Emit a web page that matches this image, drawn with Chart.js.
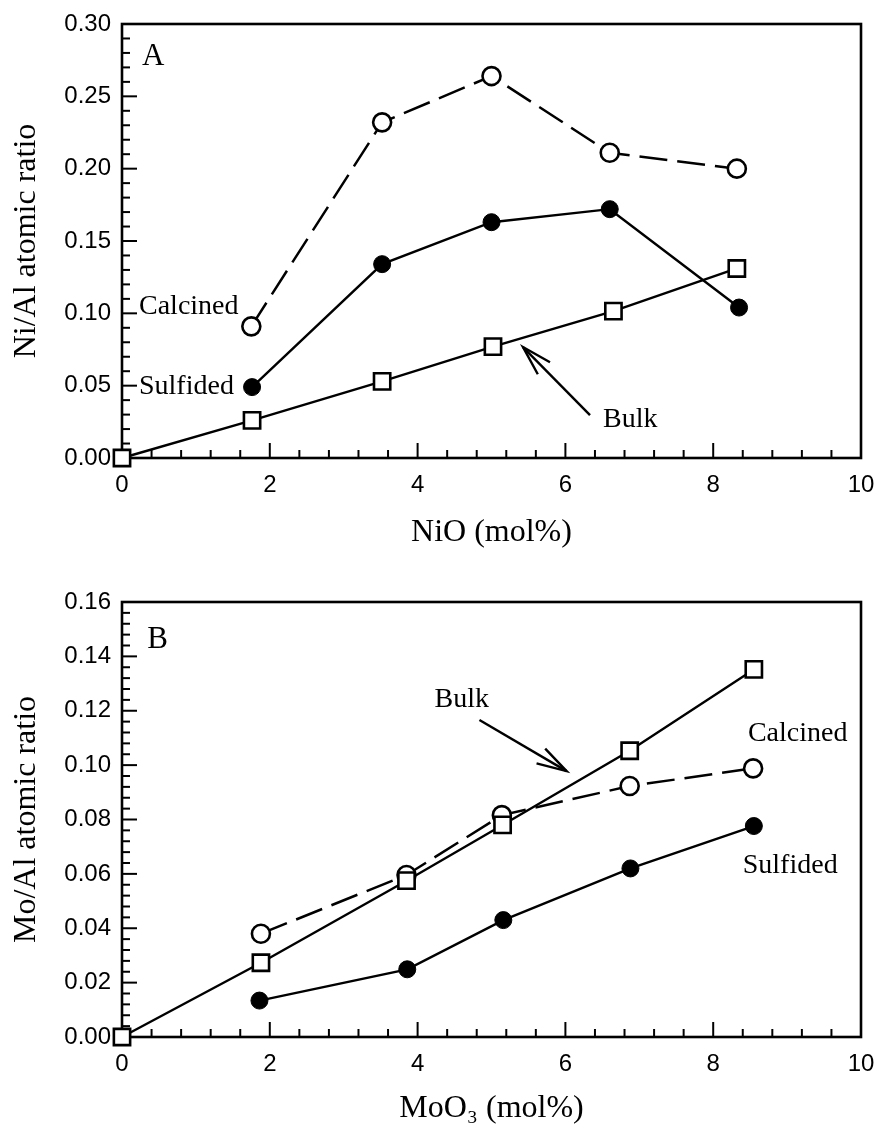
<!DOCTYPE html>
<html><head><meta charset="utf-8">
<script src="https://cdn.jsdelivr.net/npm/chart.js@4.4.1/dist/chart.umd.min.js"></script>
<style>
html,body{margin:0;padding:0;background:#fff;}
#wrap{position:relative;width:877px;height:1132px;background:#fff;}
canvas{position:absolute;left:0;display:block;}
</style></head>
<body><div id="wrap">
<canvas id="cA" width="877" height="565" style="top:0"></canvas>
<canvas id="cB" width="877" height="567" style="top:565px"></canvas>
</div>
<script>
// ---------- data ----------
const niCalcinedX = [1.75, 3.52, 5.0, 6.6, 8.32];
const niCalcinedY = [0.091, 0.232, 0.264, 0.211, 0.200];
const niSulfidedX = [1.76, 3.52, 5.0, 6.6, 8.35];
const niSulfidedY = [0.049, 0.134, 0.163, 0.172, 0.104];
const niBulkX = [0, 1.76, 3.52, 5.02, 6.65, 8.32];
const niBulkY = [0, 0.026, 0.053, 0.077, 0.1015, 0.131];

const moCalcinedX = [1.88, 3.85, 5.14, 6.87, 8.54];
const moCalcinedY = [0.038, 0.0596, 0.0816, 0.0923, 0.0988];
const moSulfidedX = [1.86, 3.86, 5.16, 6.88, 8.55];
const moSulfidedY = [0.0134, 0.0249, 0.043, 0.062, 0.0776];
const moBulkX = [0, 1.88, 3.85, 5.15, 6.87, 8.55];
const moBulkY = [0, 0.0273, 0.0575, 0.078, 0.1053, 0.1352];

const xTickValues = [0, 2, 4, 6, 8, 10];
const xTickLabels = ['0', '2', '4', '6', '8', '10'];
const yTickValuesA = [0, 0.05, 0.10, 0.15, 0.20, 0.25, 0.30];
const yTickLabelsA = ['0.00', '0.05', '0.10', '0.15', '0.20', '0.25', '0.30'];
const yTickValuesB = [0, 0.02, 0.04, 0.06, 0.08, 0.10, 0.12, 0.14, 0.16];
const yTickLabelsB = ['0.00', '0.02', '0.04', '0.06', '0.08', '0.10', '0.12', '0.14', '0.16'];

const seriesNames = ['Calcined', 'Sulfided', 'Bulk'];

// ---------- helpers ----------
const SERIF = '"Liberation Serif", "Times New Roman", serif';
const SANS = '"Liberation Sans", Arial, sans-serif';

function pts(xs, ys) { return xs.map((x, i) => ({x: x, y: ys[i]})); }

function datasets(cx, cy, sx, sy, bx, by) {
  return [
    {label: seriesNames[2], data: pts(bx, by), borderColor: '#000', borderWidth: 2.4,
     pointStyle: 'rect', pointRadius: 11.5, pointBackgroundColor: '#fff', pointBorderColor: '#000',
     pointBorderWidth: 2.6, tension: 0, clip: false},
    {label: seriesNames[1], data: pts(sx, sy), borderColor: '#000', borderWidth: 2.4,
     pointStyle: 'circle', pointRadius: 8.5, pointBackgroundColor: '#000', pointBorderColor: '#000',
     pointBorderWidth: 1, tension: 0, clip: false},
    {label: seriesNames[0], data: pts(cx, cy), borderColor: '#000', borderWidth: 2.5, borderDash: [28, 10],
     pointStyle: 'circle', pointRadius: 9, pointBackgroundColor: '#fff', pointBorderColor: '#000',
     pointBorderWidth: 2.6, tension: 0, clip: false}
  ];
}

function decoPlugin(spec) {
  return {
    id: 'deco',
    beforeDatasetsDraw(chart) {
      const ctx = chart.ctx, a = chart.chartArea, xs = chart.scales.x, ys = chart.scales.y;
      ctx.save();
      ctx.strokeStyle = '#000';
      ctx.lineWidth = 2;
      const ny = Math.round(spec.yMax / spec.yMinor);
      for (let i = 0; i <= ny; i++) {
        const py = ys.getPixelForValue(i * spec.yMinor);
        const len = (i % spec.yEvery === 0) ? 15 : 8;
        ctx.beginPath(); ctx.moveTo(a.left, py); ctx.lineTo(a.left + len, py); ctx.stroke();
      }
      const nx = Math.round(10 / 0.4);
      for (let i = 0; i <= nx; i++) {
        const px = xs.getPixelForValue(i * 0.4);
        const len = (i % 5 === 0) ? 15 : 8;
        ctx.beginPath(); ctx.moveTo(px, a.bottom); ctx.lineTo(px, a.bottom - len); ctx.stroke();
      }
      ctx.lineWidth = 2.6;
      ctx.strokeRect(a.left, a.top, a.right - a.left, a.bottom - a.top);
      ctx.restore();
    },
    afterDatasetsDraw(chart) {
      const ctx = chart.ctx, xs = chart.scales.x, ys = chart.scales.y;
      ctx.save();
      ctx.fillStyle = '#000';
      ctx.strokeStyle = '#000';
      ctx.textBaseline = 'middle';
      ctx.textAlign = 'left';
      spec.texts.forEach(t => {
        ctx.font = t.size + 'px ' + SERIF;
        ctx.fillText(t.text, xs.getPixelForValue(t.x), ys.getPixelForValue(t.y));
      });
      spec.arrows.forEach(ar => {
        const x1 = xs.getPixelForValue(ar.from[0]), y1 = ys.getPixelForValue(ar.from[1]);
        const x2 = xs.getPixelForValue(ar.to[0]), y2 = ys.getPixelForValue(ar.to[1]);
        ctx.lineWidth = 2.4;
        ctx.beginPath(); ctx.moveTo(x1, y1); ctx.lineTo(x2, y2); ctx.stroke();
        const ang = Math.atan2(y1 - y2, x1 - x2);
        const L = 31, h = 16 * Math.PI / 180;
        ctx.beginPath();
        ctx.moveTo(x2 + L * Math.cos(ang + h), y2 + L * Math.sin(ang + h));
        ctx.lineTo(x2, y2);
        ctx.lineTo(x2 + L * Math.cos(ang - h), y2 + L * Math.sin(ang - h));
        ctx.stroke();
      });
      ctx.restore();
    }
  };
}

function hiddenGrid(len) {
  return {display: true, drawOnChartArea: false, drawTicks: true, tickLength: len,
          color: 'rgba(0,0,0,0)', lineWidth: 0};
}

function makeChart(id, ds, opt) {
  return new Chart(document.getElementById(id), {
    type: 'line',
    data: {datasets: ds},
    options: {
      responsive: false,
      animation: false,
      events: [],
      layout: {padding: {left: 0, right: 16, top: opt.top, bottom: 0}},
      plugins: {legend: {display: false}, tooltip: {enabled: false}, title: {display: false}},
      scales: {
        x: {
          type: 'linear', min: 0, max: 10,
          afterBuildTicks: s => { s.ticks = xTickValues.map(v => ({value: v})); },
          afterFit: s => { s.height = opt.xH; },
          grid: hiddenGrid(13),
          border: {display: false},
          ticks: {padding: 0, color: '#000', autoSkip: false, maxRotation: 0,
                  font: {family: SANS, size: 24},
                  callback: v => xTickLabels[xTickValues.indexOf(v)]},
          title: {display: true, text: opt.xTitle, color: '#000',
                  font: {family: SERIF, size: 32, lineHeight: 1.2},
                  padding: {top: 0, bottom: opt.xPad}}
        },
        y: {
          type: 'linear', min: 0, max: opt.yMax,
          afterBuildTicks: s => { s.ticks = opt.yVals.map(v => ({value: v})); },
          afterFit: s => { s.width = 122; },
          grid: hiddenGrid(11),
          border: {display: false},
          ticks: {padding: 0, color: '#000', autoSkip: false,
                  font: {family: SANS, size: 24},
                  callback: v => opt.yLabs[opt.yVals.findIndex(t => Math.abs(t - v) < 1e-9)]},
          title: {display: true, text: opt.yTitle, color: '#000',
                  font: {family: SERIF, size: 32, lineHeight: 1.2},
                  padding: {top: 7, bottom: 0}}
        }
      }
    },
    plugins: [decoPlugin(opt.deco)]
  });
}

makeChart('cA', datasets(niCalcinedX, niCalcinedY, niSulfidedX, niSulfidedY, niBulkX, niBulkY), {
  top: 24, xH: 107, xPad: 13, yMax: 0.30,
  yVals: yTickValuesA, yLabs: yTickLabelsA,
  xTitle: 'NiO (mol%)', yTitle: 'Ni/Al atomic ratio',
  deco: {
    yMax: 0.30, yMinor: 0.01, yEvery: 5,
    texts: [
      {text: 'A', x: 0.27, y: 0.2772, size: 31},
      {text: 'Calcined', x: 0.23, y: 0.1047, size: 28},
      {text: 'Sulfided', x: 0.23, y: 0.0491, size: 28},
      {text: 'Bulk', x: 6.51, y: 0.0266, size: 28}
    ],
    arrows: [{from: [6.333, 0.0297], to: [5.426, 0.0767]}]
  }
});

makeChart('cB', datasets(moCalcinedX, moCalcinedY, moSulfidedX, moSulfidedY, moBulkX, moBulkY), {
  top: 37, xH: 95, xPad: 4, yMax: 0.16,
  yVals: yTickValuesB, yLabs: yTickLabelsB,
  xTitle: 'MoO\u2083 (mol%)', yTitle: 'Mo/Al atomic ratio',
  deco: {
    yMax: 0.16, yMinor: 0.004, yEvery: 5,
    texts: [
      {text: 'B', x: 0.34, y: 0.146, size: 31},
      {text: 'Bulk', x: 4.23, y: 0.1241, size: 28},
      {text: 'Calcined', x: 8.47, y: 0.1114, size: 28},
      {text: 'Sulfided', x: 8.40, y: 0.0629, size: 28}
    ],
    arrows: [{from: [4.837, 0.1166], to: [6.016, 0.0978]}]
  }
});
</script>
</body></html>
